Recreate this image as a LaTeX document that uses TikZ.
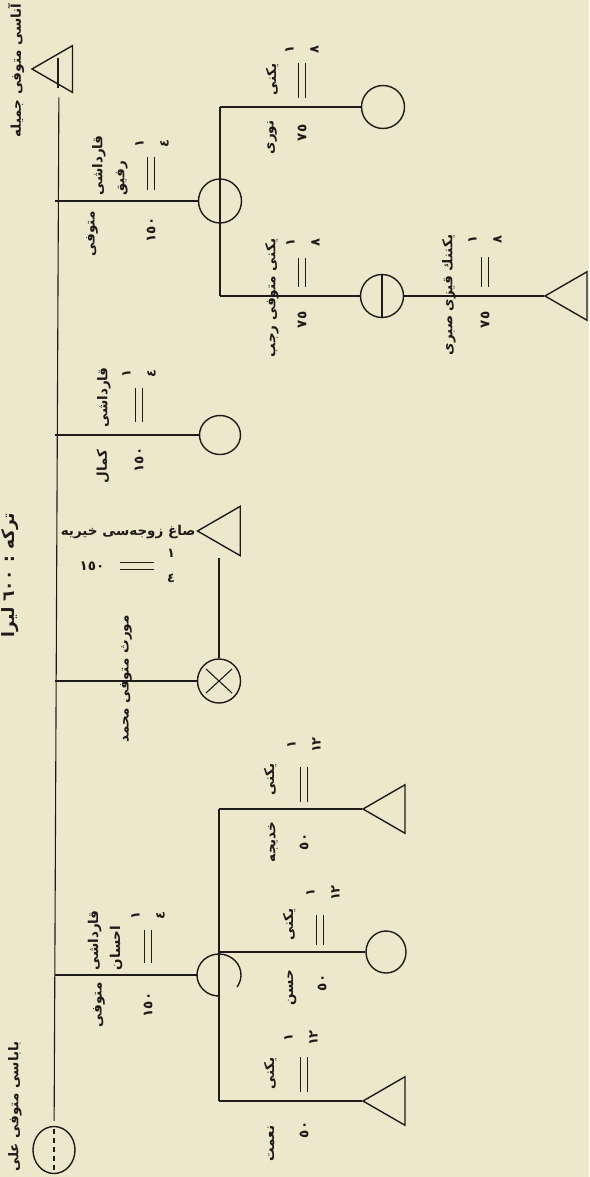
\documentclass[tikz,border=0pt]{standalone}
\usepackage{fontspec}
\newfontfamily\arabicfont[Script=Arabic]{DejaVu Sans}
\TeXXeTstate=1
\usetikzlibrary{shapes.geometric,calc}
\definecolor{paper}{RGB}{236,232,204}
\definecolor{ink}{RGB}{30,28,24}
\newcommand\rtltext[1]{\beginR #1\endR}
\begin{document}
\begin{tikzpicture}[x=1pt, y=-1pt, line width=1.1pt, color=ink,
  tx/.style={font=\arabicfont\bfseries\fontsize{13.5}{16}\selectfont, inner sep=0pt},
  lbl/.style={tx, rotate=90},
  twolbl/.style={lbl, align=left, font=\arabicfont\bfseries\fontsize{13.5}{22}\selectfont},
  nm/.style={font=\arabicfont\bfseries\fontsize{13.5}{16}\selectfont, inner sep=0pt},
  vnm/.style={nm, rotate=90},
  hfrac/.style={font=\arabicfont\bfseries\fontsize{13}{25}\selectfont, inner sep=0pt, align=center},
  vfrac/.style={hfrac, rotate=90},
  man/.style={ellipse, draw, line width=1.4pt, inner sep=0pt, minimum width=43pt, minimum height=44pt},
  woman/.style={regular polygon, regular polygon sides=3, shape border rotate=90, draw, line width=1.4pt, inner sep=0pt, minimum size=56pt}]
  \fill[paper] (0,0) rectangle (589,1177);
  \useasboundingbox (0,0) rectangle (589,1177);
  \coordinate (spine) at (55,0);

  % persons
  \node[woman, minimum size=54pt] (mother) at (59,69) {};
  \node[man, minimum width=42pt, minimum height=47pt] (ali) at (54,1150) {};
  \node[man] (rafiq) at (220,201) {};
  \node[man, minimum height=43pt] (nouri) at (383,107) {};
  \node[man, minimum height=43pt] (rajab) at (382,296) {};
  \node[woman] (sabri) at (573,296) {};
  \node[man, minimum width=41pt, minimum height=39pt] (kamal) at (220,435) {};
  \node[man] (mohammed) at (219,681) {};
  \node[woman, minimum size=57pt] (hayriye) at (226,531) {};
  \node[man, draw=none, minimum height=42pt] (ihsan) at (219,975) {};
  \node[woman] (hadice) at (391,809) {};
  \node[man, minimum width=40pt, minimum height=42pt] (hasan) at (386,952) {};
  \node[woman] (nimet) at (391,1101) {};

  % names and shares
  \node[lbl, font=\arabicfont\bfseries\fontsize{17}{20}\selectfont] (estate) at (10,575) {\rtltext{ترکه : ٦٠٠ لیرا}};
  \node[lbl, anchor=east] (motherlbl) at (16,3) {\rtltext{آناسی متوفی جمیله}};
  \node[lbl, anchor=west] (alilbl) at (15,1172) {\rtltext{باباسی متوفی علی}};

  \node[twolbl, anchor=west] (rafiqname) at (110,196) {\rtltext{قارداشی}\\\rtltext{رفیق}};
  \node[lbl, anchor=east] (rafiqdead) at (92,211) {\rtltext{متوفی}};
  \node[vnm, anchor=east] (rafiqshare) at (151,217) {١٥٠};
  \node[vfrac] (rafiqfrac) at (152,144) {١\\٤};

  \node[lbl, anchor=west] (nourirel) at (272,96) {\rtltext{یکنی}};
  \node[lbl, anchor=east] (nouriname) at (272,120) {\rtltext{نوری}};
  \node[vnm, anchor=east] (nourishare) at (302,124) {٧٥};
  \node[vfrac] (nourifrac) at (302,50) {١\\٨};

  \node[lbl] (rajabname) at (272,298) {\rtltext{یکنی متوفی رجب}};
  \node[vnm, anchor=east] (rajabshare) at (302,311) {٧٥};
  \node[vfrac] (rajabfrac) at (303,243) {١\\٨};

  \node[lbl] (sabriname) at (449,295) {\rtltext{یکننك قیزی صبری}};
  \node[vnm, anchor=east] (sabrishare) at (485,311) {٧٥};
  \node[vfrac] (sabrifrac) at (485,240) {١\\٨};

  \node[lbl, anchor=west] (kamalrel) at (104,428) {\rtltext{قارداشی}};
  \node[lbl, anchor=east] (kamalname) at (103,449) {\rtltext{کمال}};
  \node[vnm, anchor=east] (kamalshare) at (139,447) {١٥٠};
  \node[vfrac] (kamalfrac) at (139,374) {١\\٤};

  \node[lbl] (mohammedname) at (126,679) {\rtltext{مورث متوفی محمد}};
  \node[tx, anchor=east] (hayriyename) at (196,532) {\rtltext{صاغ زوجه‌سی خیریه}};
  \node[nm] (hayriyeshare) at (92,566) {١٥٠};
  \node[hfrac] (hayriyefrac) at (171,566) {١\\٤};

  \node[twolbl, anchor=west] (ihsanname) at (105,971) {\rtltext{قارداشی}\\\rtltext{احسان}};
  \node[lbl, anchor=east] (ihsandead) at (99,982) {\rtltext{متوفی}};
  \node[vnm, anchor=east] (ihsanshare) at (148,992) {١٥٠};
  \node[vfrac] (ihsanfrac) at (148,916) {١\\٤};

  \node[lbl, anchor=west] (hadicerel) at (270,796) {\rtltext{یکنی}};
  \node[lbl, anchor=east] (hadicename) at (273,821) {\rtltext{خدیجه}};
  \node[vnm, anchor=east] (hadiceshare) at (304,833) {٥٠};
  \node[vfrac] (hadicefrac) at (304,745) {١\\١٢};

  \node[lbl, anchor=west] (hasanrel) at (289,941) {\rtltext{یکنی}};
  \node[lbl, anchor=east] (hasanname) at (292,969) {\rtltext{حسن}};
  \node[vnm, anchor=east] (hasanshare) at (322,974) {٥٠};
  \node[vfrac] (hasanfrac) at (323,893) {١\\١٢};

  \node[lbl, anchor=west] (nimetrel) at (270,1090) {\rtltext{یکنی}};
  \node[lbl, anchor=east] (nimetname) at (271,1125) {\rtltext{نعمت}};
  \node[vnm, anchor=east] (nimetshare) at (304,1121) {٥٠};
  \node[vfrac] (nimetfrac) at (301,1038) {١\\١٢};

  % equal signs
  \foreach \x/\ya/\yb in {151/157/190, 302/63/98, 302/258/287, 485/257/287, 139/388/422,
      148/930/963, 304/767/802, 320/915/945, 304/1057/1092}
    \draw (\x-3.5,\ya) -- (\x-3.5,\yb) (\x+3.5,\ya) -- (\x+3.5,\yb);
  \draw (120,562.5) -- (154,562.5) (120,569.5) -- (154,569.5);

  % lines
  \draw[shorten <=12pt, shorten >=5pt] (mother) -- (ali);
  \draw (mother.center) ++(-1,-11) -- ++(0,30);
  \draw[dash pattern=on 5pt off 4pt, shorten <=3pt, shorten >=3pt] (ali.north) -- (ali.south);
  \foreach \p in {rafiq, kamal, mohammed, ihsan}
    \draw (spine |- \p) -- (\p);
  \draw (rafiq |- nouri) -- (rafiq |- rajab);
  \draw (rafiq |- nouri) -- (nouri);
  \draw (rafiq |- rajab) -- (rajab);
  \draw (rajab.north) -- (rajab.south);
  \draw (rajab) -- (sabri);
  \draw ($(mohammed)+(-13,-12)$) -- ($(mohammed)+(13,12)$)
        ($(mohammed)+(-13,12)$) -- ($(mohammed)+(13,-12)$);
  \draw[shorten >=27pt] (mohammed) -- (mohammed |- hayriye);
  \draw[line width=1.4pt] ([shift={(-35:22pt and 21pt)}]ihsan.center) arc[start angle=-35, end angle=270, x radius=22pt, y radius=21pt];
  \draw (ihsan |- hadice) -- (ihsan |- nimet);
  \draw (ihsan |- hadice) -- (hadice);
  \draw (ihsan |- hasan) -- (hasan);
  \draw (ihsan |- nimet) -- (nimet);
\end{tikzpicture}
\end{document}
